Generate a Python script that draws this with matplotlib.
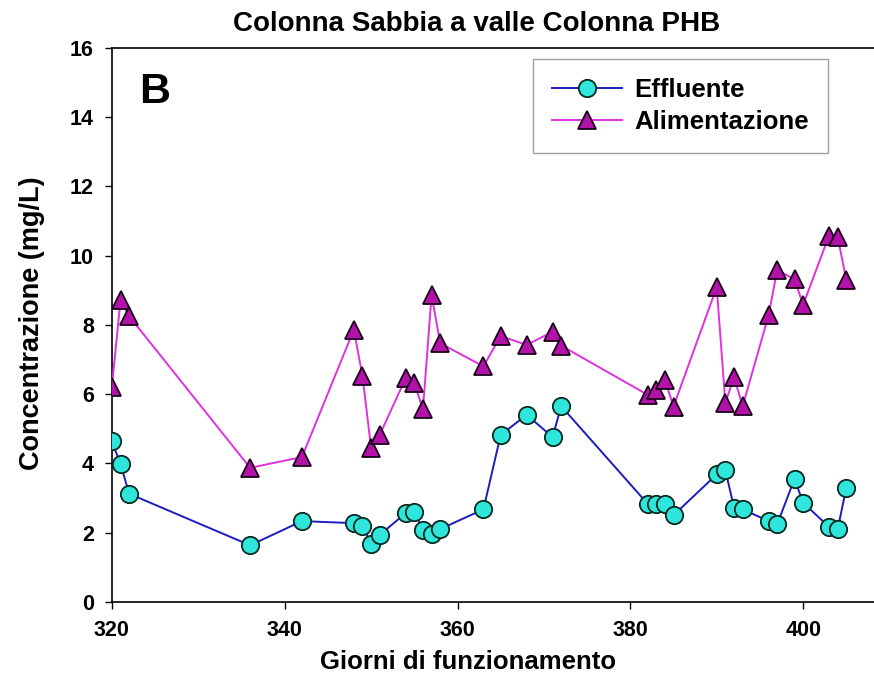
import matplotlib
matplotlib.use("Agg")
import matplotlib.pyplot as plt
from matplotlib import font_manager

# giorni di campionamento (comuni alle due serie)
giorni = [320, 321, 322, 336, 342, 348, 349, 350, 351, 354, 355, 356, 357, 358,
          363, 365, 368, 371, 372, 382, 383, 384, 385, 390, 391, 392, 393, 396,
          397, 399, 400, 403, 404, 405]

effluente = [4.63, 3.98, 3.12, 1.63, 2.33, 2.27, 2.2, 1.67, 1.93, 2.56, 2.6,
             2.07, 1.96, 2.1, 2.67, 4.82, 5.4, 4.76, 5.65, 2.83, 2.83, 2.82,
             2.5, 3.68, 3.8, 2.72, 2.67, 2.33, 2.24, 3.55, 2.86, 2.16, 2.1, 3.3]

alimentazione = [6.21, 8.71, 8.25, 3.87, 4.18, 7.86, 6.53, 4.44, 4.82, 6.46,
                 6.32, 5.56, 8.86, 7.47, 6.8, 7.68, 7.42, 7.8, 7.4, 5.98, 6.12,
                 6.41, 5.64, 9.09, 5.74, 6.5, 5.65, 8.28, 9.58, 9.32, 8.58,
                 10.58, 10.54, 9.29]

yticks = [0, 2, 4, 6, 8, 10, 12, 14, 16]
xticks = [320, 340, 360, 380, 400]

installed = {f.name for f in font_manager.fontManager.ttflist}
family = "Liberation Sans Narrow" if "Liberation Sans Narrow" in installed else "Liberation Sans"
plt.rcParams["font.family"] = [family, "DejaVu Sans"]
plt.rcParams["font.weight"] = "bold"

fig = plt.figure(figsize=(8.74, 6.79), dpi=100)
ax = fig.add_axes([0.128, 0.1138, 0.872, 0.8155])

ax.plot(giorni, effluente, color="#1c1cc0", lw=1.4, marker="o", ms=12.5,
        mfc="#2ee6dc", mec="#0a2a20", mew=1.3, label="Effluente", zorder=3)
ax.plot(giorni, alimentazione, color="#e030e0", lw=1.4, marker="^", ms=13,
        mfc="#b312a8", mec="#1a001a", mew=1.3, label="Alimentazione", zorder=3)

ax.set_xlim(320, 408.2)
ax.set_ylim(0, 16)
ax.set_xticks(xticks)
ax.set_yticks(yticks)
ax.tick_params(direction="out", length=5, width=1, labelsize=15.5, pad=8)
for lab in ax.get_xticklabels() + ax.get_yticklabels():
    lab.set_fontweight("bold")
ax.spines["right"].set_visible(False)
for s in ("left", "top", "bottom"):
    ax.spines[s].set_linewidth(1.2)

ax.text(0.036, 0.92, "B", transform=ax.transAxes, fontsize=31,
        fontweight="bold", va="center", ha="left")

leg = ax.legend(loc="upper left", bbox_to_anchor=(0.5525, 0.98),
                borderaxespad=0, fontsize=18.5, frameon=True, fancybox=False,
                edgecolor="#888888", handlelength=2.7, borderpad=0.75,
                labelspacing=0.3, handletextpad=0.5)
leg.get_frame().set_linewidth(1.0)
for t in leg.get_texts():
    t.set_fontweight("bold")

fig.text(0.545, 0.964, "Colonna Sabbia a valle Colonna PHB", ha="center",
         va="center", fontsize=20, fontweight="bold")
fig.text(0.535, 0.025, "Giorni di funzionamento", ha="center", va="center",
         fontsize=18.5, fontweight="bold")
fig.text(0.037, 0.524, "Concentrazione (mg/L)", ha="center", va="center",
         rotation=90, fontsize=19.5, fontweight="bold")

fig.savefig("out.png", dpi=100)
